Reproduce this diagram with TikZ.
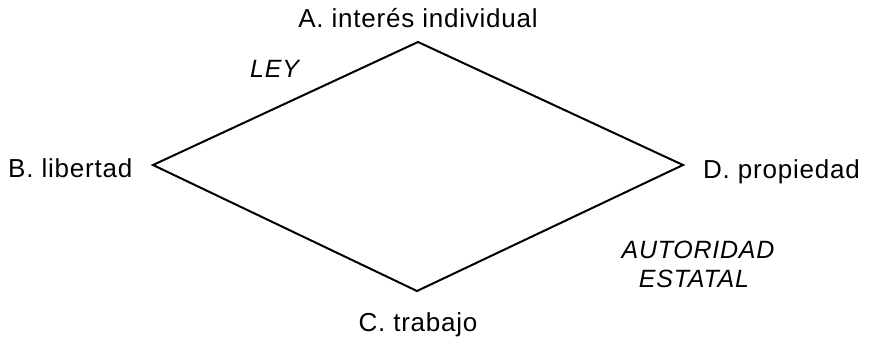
\documentclass[tikz,border=0pt]{standalone}
\usepackage{fontspec}
\setmainfont{Liberation Sans}[LetterSpace=3]
\begin{document}
\begin{tikzpicture}[x=1pt,y=-1pt,
  vlabel/.style={font=\fontsize{26}{30}\selectfont, inner sep=0pt},
  elabel/.style={font=\fontsize{25}{30}\selectfont\itshape, inner sep=0pt, align=center},
  rim/.style={line width=2pt, line join=miter}]
\useasboundingbox (0,0) rectangle (871,338);
% corners of the rhombus
\coordinate (A) at (418,42);
\coordinate (B) at (153,165);
\coordinate (C) at (417,291);
\coordinate (D) at (683,165);
\draw[rim] (A) -- (D) -- (C) -- (B) -- cycle;
% corner labels
\node[vlabel, anchor=base] (la) at (418,27) {A. interés individual};
\node[vlabel, anchor=base west] (lb) at (8,177) {B. libertad};
\node[vlabel, anchor=base west] (ld) at (703,178) {D. propiedad};
\node[vlabel, anchor=base] (lc) at (418,331) {C. trabajo};
% side labels
\node[elabel, anchor=base west] (ley) at (250,77) {LEY};
\node[elabel, anchor=base] (aut) at (698,258) {AUTORIDAD};
\node[elabel, anchor=base] (est) at (694,287) {ESTATAL};
\end{tikzpicture}
\end{document}
